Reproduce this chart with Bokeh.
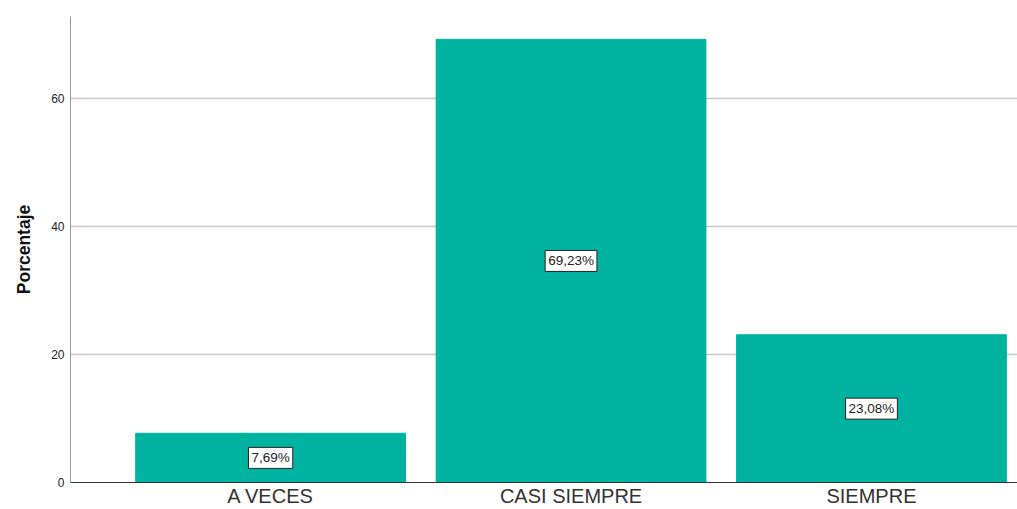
from bokeh.plotting import figure
from bokeh.models import ColumnDataSource, Label, Range1d, FixedTicker
from bokeh.embed import file_html
from bokeh.resources import INLINE

categories = ["A VECES", "CASI SIEMPRE", "SIEMPRE"]
values = [7.69, 69.23, 23.08]
labels = ["7,69%", "69,23%", "23,08%"]
y_ticks = [0, 20, 40, 60]

xs = list(range(len(categories)))
src = ColumnDataSource(dict(x=xs, top=values))

p = figure(width=1017, height=509, output_backend="svg", toolbar_location=None,
           x_range=Range1d(-0.666, 2.486), y_range=Range1d(0, 72.8),
           min_border_left=70, min_border_right=0, min_border_top=16, min_border_bottom=27)
p.outline_line_color = None
p.background_fill_color = "white"
p.border_fill_color = "white"

p.vbar(x="x", top="top", width=0.898, source=src, fill_color="#00b3a1", line_color="#00b3a1")

for xi, v, lab in zip(xs, values, labels):
    p.add_layout(Label(x=xi, y=v / 2, text=lab, text_align="center", text_baseline="middle",
                       text_font="Liberation Sans", text_font_size="13.5px", text_color="#222222",
                       background_fill_color="white", border_line_color="#222222",
                       border_line_width=1, padding=3))

p.xaxis.ticker = FixedTicker(ticks=xs)
p.xaxis.major_label_overrides = {i: c for i, c in enumerate(categories)}
p.xaxis.major_label_text_font = "Liberation Sans"
p.xaxis.major_label_text_font_size = "20px"
p.xaxis.major_label_text_color = "#333333"
p.xaxis.major_label_standoff = 2
p.xaxis.major_tick_out = 0
p.xaxis.major_tick_in = 0
p.xaxis.major_tick_line_color = None
p.xaxis.minor_tick_line_color = None
p.xaxis.axis_line_color = "#333333"
p.xaxis.axis_line_width = 1

p.yaxis.ticker = FixedTicker(ticks=y_ticks)
p.yaxis.major_label_text_font = "Liberation Sans"
p.yaxis.major_label_text_font_size = "12px"
p.yaxis.major_label_text_color = "#222222"
p.yaxis.major_label_standoff = 6
p.yaxis.major_tick_out = 0
p.yaxis.major_tick_in = 0
p.yaxis.major_tick_line_color = None
p.yaxis.minor_tick_line_color = None
p.yaxis.axis_line_color = "#999999"
p.yaxis.axis_label = "Porcentaje"
p.yaxis.axis_label_text_font = "Liberation Sans"
p.yaxis.axis_label_text_font_style = "bold"
p.yaxis.axis_label_text_font_size = "17.5px"
p.yaxis.axis_label_text_color = "#111111"
p.yaxis.axis_label_standoff = 14

p.xgrid.grid_line_color = None
p.ygrid.grid_line_color = "#c8c8c8"
p.ygrid.grid_line_width = 1.3

open("out.html", "w").write(file_html(p, INLINE))
